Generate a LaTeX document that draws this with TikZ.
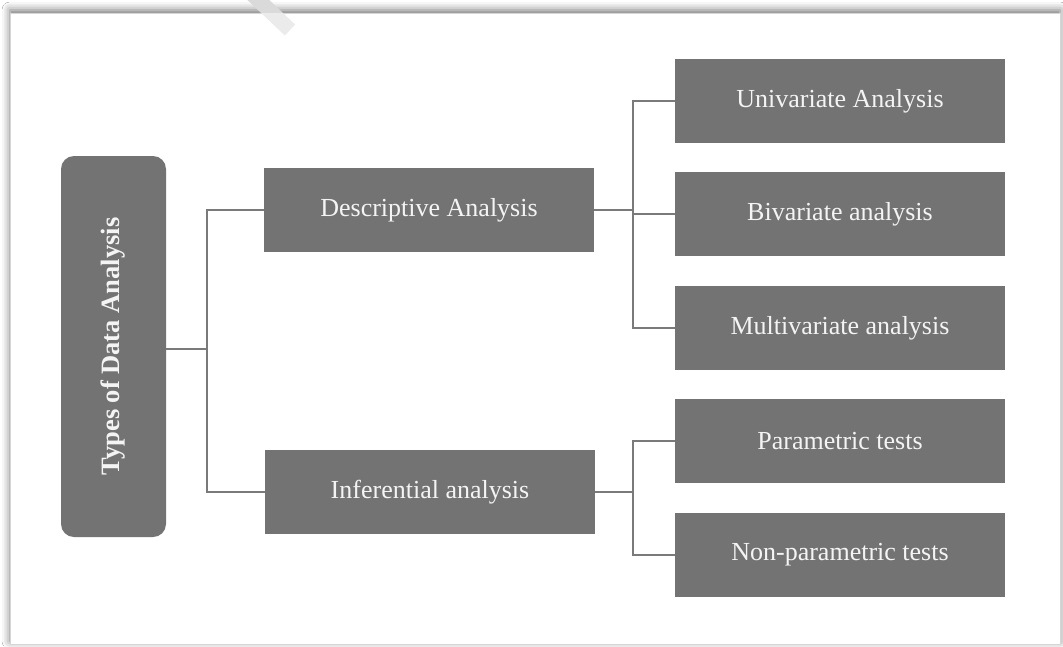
\documentclass[tikz,border=0pt]{standalone}
\usepackage{fontspec}
\setmainfont{Liberation Serif}
\usetikzlibrary{shadows.blur}
\definecolor{boxgray}{HTML}{737373}
\definecolor{linegray}{HTML}{7A7A7A}
\definecolor{framegray}{HTML}{D6D6D6}
\definecolor{txt}{HTML}{F4F4F4}
\definecolor{markout}{HTML}{DADADA}
\definecolor{markin}{HTML}{EBEBEB}
\tikzset{
  leaf/.style={fill=boxgray, text=txt, minimum width=330pt, minimum height=84pt,
    inner sep=0pt, font=\fontsize{26}{30}\selectfont},
  rootbox/.style={fill=boxgray, text=txt, minimum width=105pt, minimum height=381pt,
    inner sep=0pt, rounded corners=13pt},
  conn/.style={draw=linegray, line width=1.6pt},
}
\begin{document}
\begin{tikzpicture}[x=1pt,y=-1pt]
\useasboundingbox (0,0) rectangle (1063,646);
\fill[white] (0,0) rectangle (1063,646);
% frame with shadow
\path[fill=white, draw=framegray, line width=0.8pt,
  blur shadow={shadow xshift=0pt, shadow yshift=3pt, shadow blur radius=8pt, shadow opacity=55}]
  (10,13) rectangle (1060,644);
% faint watermark stroke
\begin{scope}
  \clip (200,-10) rectangle (320,13);
  \draw[line width=15pt, markout] (252,-6) -- (290,30);
\end{scope}
\begin{scope}
  \clip (200,13.5) rectangle (320,60);
  \draw[line width=15pt, markin] (252,-6) -- (290,30);
\end{scope}

% nodes
\node[rootbox] (root) at (113.5,346.5) {};
\node[rotate=90, text=txt, font=\bfseries\fontsize{26.5}{30}\selectfont] (roottext) at (root.center) {Types of Data Analysis};
\node[leaf] (desc) at (429,210) {Descriptive Analysis};
\node[leaf] (inf)  at (430,492) {Inferential analysis};
\node[leaf] (uni)  at (840,101) {Univariate Analysis};
\node[leaf] (biv)  at (840,214) {Bivariate analysis};
\node[leaf] (mul)  at (840,328) {Multivariate analysis};
\node[leaf] (par)  at (840,441) {Parametric tests};
\node[leaf] (non)  at (840,555) {Non-parametric tests};

% junctions
\coordinate (j1) at (207,349);
\coordinate (j2) at (633,212);
\coordinate (j3) at (633,497);

\draw[conn] (root.east |- j1) -- (j1);
\draw[conn] (desc.west) -| (j1) |- (inf.west);
\draw[conn] (desc.east) -- (desc.east -| j2);
\draw[conn] (uni.west) -| (j2) |- (mul.west);
\draw[conn] (biv.west) -- (biv.west -| j2);
\draw[conn] (inf.east) -- (inf.east -| j3);
\draw[conn] (par.west) -| (j3) |- (non.west);
\end{tikzpicture}
\end{document}
